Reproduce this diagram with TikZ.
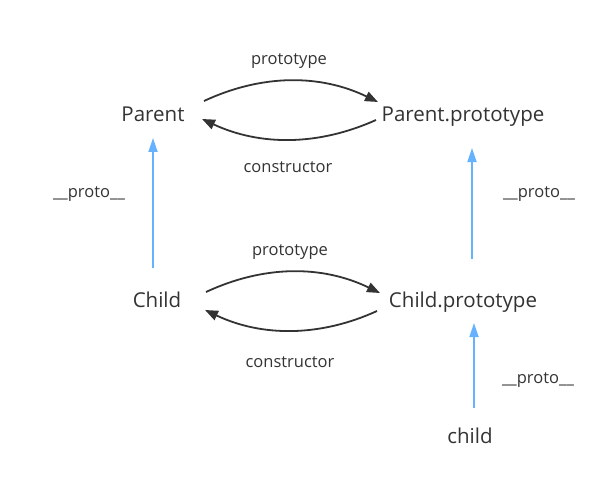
\documentclass[tikz,border=0pt]{standalone}
\usepackage{fontspec}
\setmainfont{Open Sans}
\usetikzlibrary{arrows.meta}
\definecolor{txt}{RGB}{51,51,51}
\definecolor{linkblue}{RGB}{102,178,255}
\tikzset{
  big/.style={anchor=base,inner sep=0pt,text=txt,font=\fontsize{20.5}{24}\selectfont},
  lbl/.style={anchor=base,inner sep=0pt,text=txt,font=\fontsize{16.5}{20}\selectfont},
  rel/.style={draw=txt,line width=1.8pt,-{Triangle[length=13pt,width=10pt]}},
  protoarrow/.style={draw=linkblue,line width=1.8pt,-{Triangle[length=14pt,width=9pt]}}
}
\begin{document}
\begin{tikzpicture}[x=1pt,y=-1pt]
\useasboundingbox (0,0) rectangle (612,497);
% nodes
\node[big] (P) at (153,122) {Parent};
\node[big] (PP) at (463,122) {Parent.prototype};
\node[big] (C) at (157,307) {Child};
\node[big] (CP) at (463,307) {Child.prototype};
\node[big] (c) at (470,443) {child};
\node[lbl] (l1) at (289,65) {prototype};
\node[lbl] (l2) at (288,172) {constructor};
\node[lbl] (l3) at (290,255) {prototype};
\node[lbl] (l4) at (290,367) {constructor};
\node[lbl] (l5) at (89,197) {\_\_proto\_\_};
\node[lbl] (l6) at (539,197) {\_\_proto\_\_};
\node[lbl] (l7) at (538,383) {\_\_proto\_\_};
% top pair
\path[rel] ([shift={(51,-21)}]P.base) .. controls +(58,-27) and +(-58,-28) .. ([shift={(-85,-20)}]PP.base);
\path[rel] ([shift={(-87,-2)}]PP.base) .. controls +(-58,26) and +(58,27) .. ([shift={(49,-3)}]P.base);
% bottom pair
\path[rel] ([shift={(49,-15)}]C.base) .. controls +(58,-27) and +(-58,-28) .. ([shift={(-83,-14)}]CP.base);
\path[rel] ([shift={(-86,4)}]CP.base) .. controls +(-57,26) and +(57,27) .. ([shift={(48,3)}]C.base);
% proto arrows
\path[protoarrow] ([shift={(-4,-39)}]C.base) -- ([shift={(0,16)}]P.base);
\path[protoarrow] ([shift={(9,-48)}]CP.base) -- ([shift={(9,26)}]PP.base);
\path[protoarrow] ([shift={(4,-35)}]c.base) -- ([shift={(11,16)}]CP.base);
\end{tikzpicture}
\end{document}
